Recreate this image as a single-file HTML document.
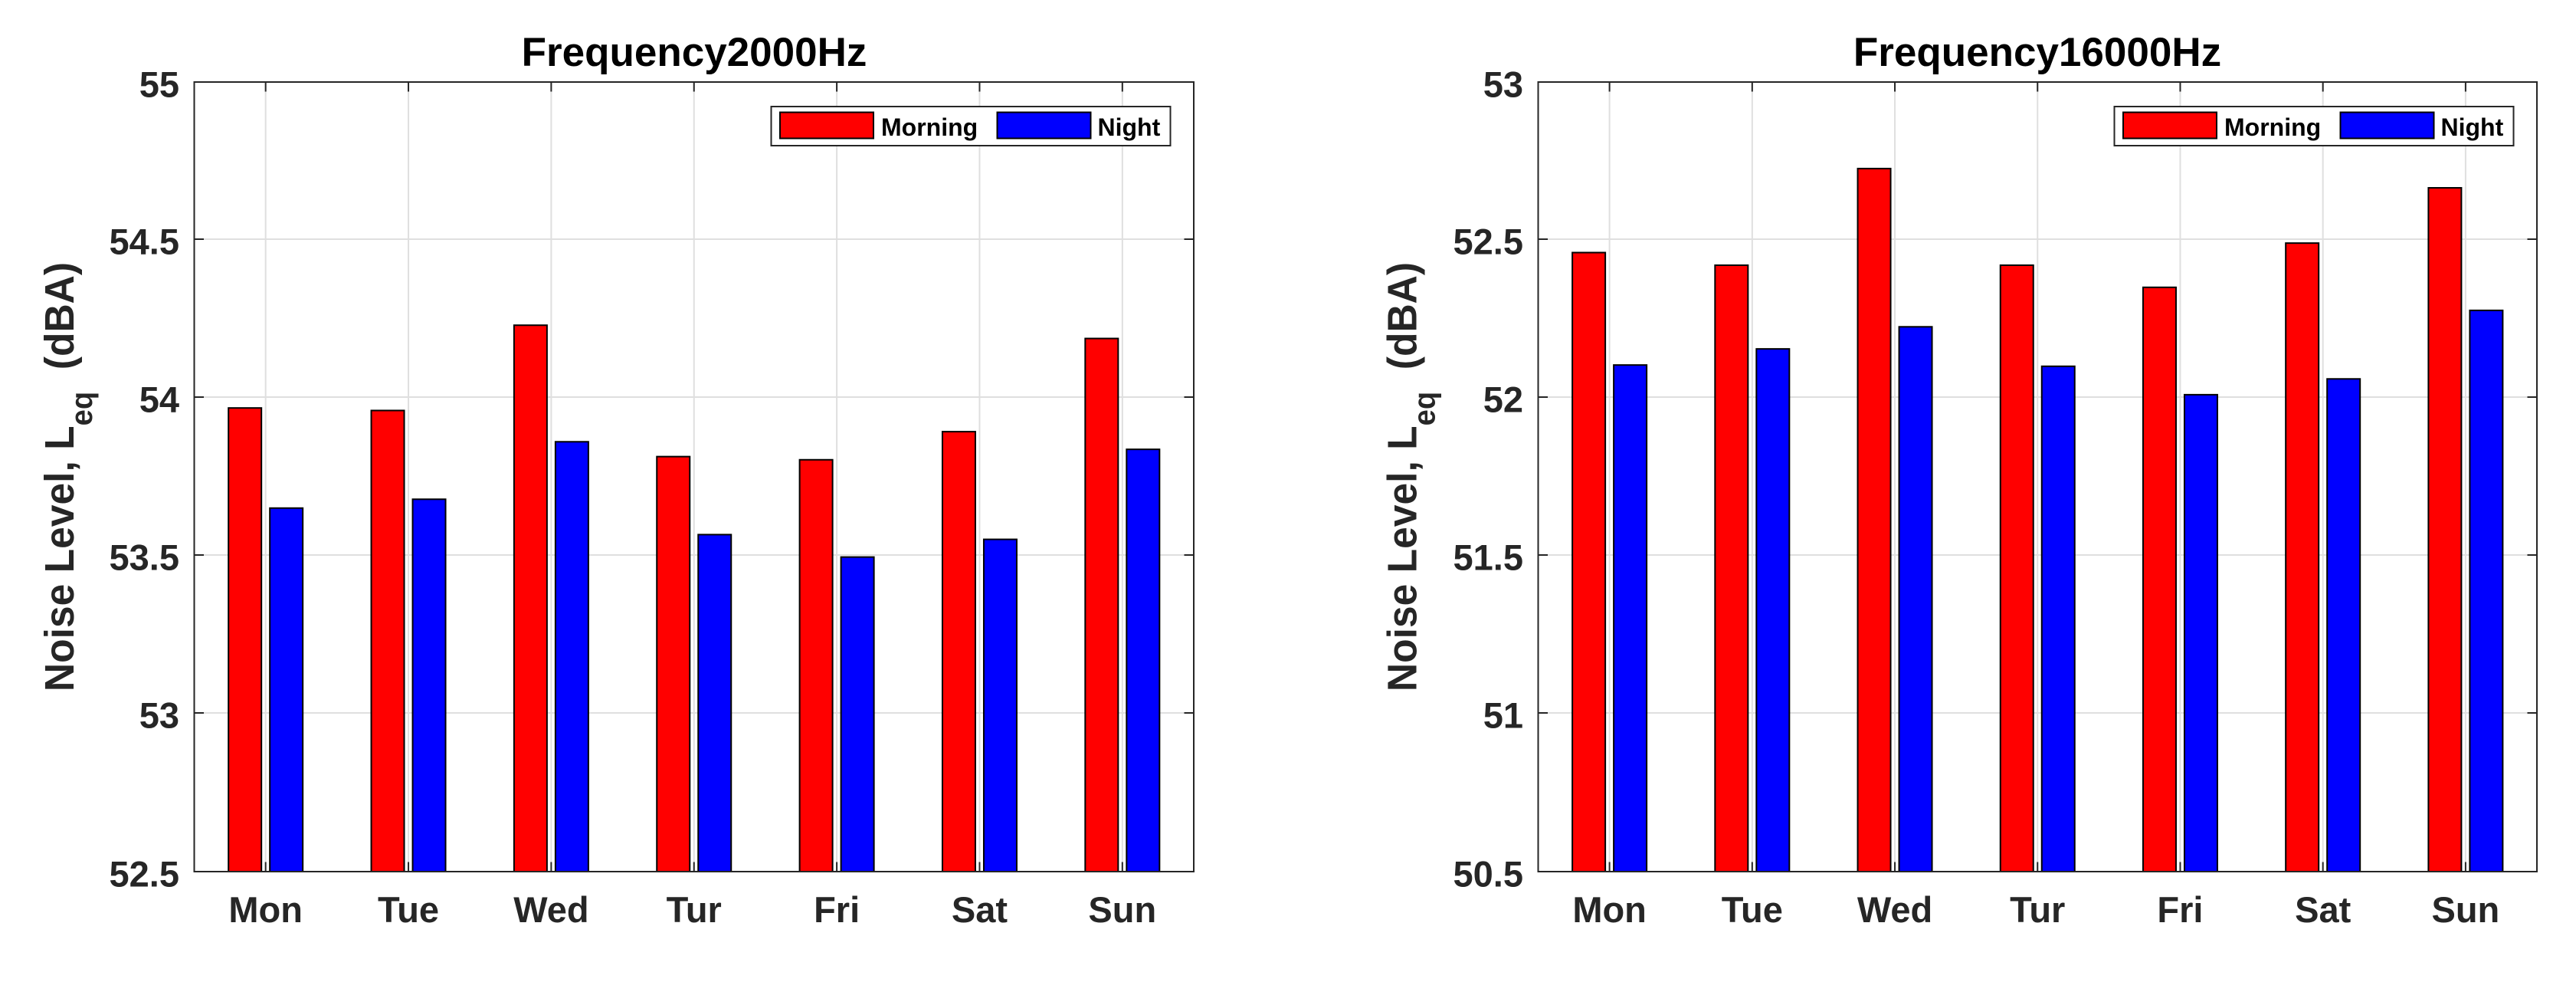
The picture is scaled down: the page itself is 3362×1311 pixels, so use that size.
<!DOCTYPE html>
<html lang="en">
<head>
<meta charset="utf-8">
<title>Noise Level by Day: 2000Hz and 16000Hz</title>
<style>
  html, body { margin: 0; padding: 0; background: #fff; }
  body { width: 3362px; height: 1311px; overflow: hidden; }
  svg { display: block; }
  text { font-family: "Liberation Sans", Arial, sans-serif; font-weight: bold; }
  .chart-title { font-size: 53px; fill: #000; text-anchor: middle; }
  .y-title { font-size: 54px; fill: #262626; text-anchor: middle; }
  .y-title .sub { font-size: 40px; }
  .tick-label { font-size: 47px; fill: #262626; }
  .legend-text { font-size: 32px; fill: #000; }
</style>
</head>
<body>
<svg id="figure" xmlns="http://www.w3.org/2000/svg" width="3362" height="1311" viewBox="0 0 3362 1311">
  <rect x="0" y="0" width="3362" height="1311" fill="#ffffff"/>

  <g id="panel-2000"></g>
  <text class="chart-title" x="906" y="86">Frequency2000Hz</text>
  <text class="y-title" transform="translate(96,622) rotate(-90) scale(0.955,1)">Noise Level, L<tspan class="sub" dy="24">eq</tspan><tspan dy="-24">&#160;&#160;(dBA)</tspan></text>

  <g id="panel-16000"></g>
  <text class="chart-title" x="2659" y="86">Frequency16000Hz</text>
  <text class="y-title" transform="translate(1848.5,622) rotate(-90) scale(0.955,1)">Noise Level, L<tspan class="sub" dy="24">eq</tspan><tspan dy="-24">&#160;&#160;(dBA)</tspan></text>
</svg>

<script>
// ---- chart data ----
const categories = ['Mon', 'Tue', 'Wed', 'Tur', 'Fri', 'Sat', 'Sun'];
const seriesNames = ['Morning', 'Night'];

const morning2000 = [53.968, 53.960, 54.230, 53.814, 53.804, 53.893, 54.188];
const night2000 = [53.651, 53.679, 53.861, 53.567, 53.496, 53.552, 53.837];
const ticks2000 = [52.5, 53, 53.5, 54, 54.5, 55];
const tickLabels2000 = ['52.5', '53', '53.5', '54', '54.5', '55'];

const morning16000 = [52.460, 52.420, 52.726, 52.420, 52.350, 52.490, 52.665];
const night16000 = [52.104, 52.155, 52.225, 52.100, 52.010, 52.060, 52.277];
const ticks16000 = [50.5, 51, 51.5, 52, 52.5, 53];
const tickLabels16000 = ['50.5', '51', '51.5', '52', '52.5', '53'];

// ---- drawing ----
const SVG_NS = 'http://www.w3.org/2000/svg';
const AXIS_COLOR = '#262626';
const GRID_COLOR = '#dfdfdf';
const SERIES_COLORS = ['#ff0000', '#0000ff'];

function make(tag, parent, attrs) {
  const el = document.createElementNS(SVG_NS, tag);
  for (const k in attrs) el.setAttribute(k, attrs[k]);
  parent.appendChild(el);
  return el;
}

function drawPanel(root, slug, box, morning, night, ticks, tickLabels) {
  const yMin = ticks[0];
  const yMax = ticks[ticks.length - 1];
  const xScale = function (i) {
    return box.left + (i + 0.5) * (box.right - box.left) / categories.length;
  };
  const yScale = function (v) {
    return box.bottom - (v - yMin) / (yMax - yMin) * (box.bottom - box.top);
  };
  // interior ticks sit about a pixel above the linear position in the reference
  const tickY = function (t, i) {
    const interior = i > 0 && i < ticks.length - 1;
    return yScale(t) - (interior ? 1 : 0);
  };
  const BAR_W = 43;
  const BAR_OFFSET = 27;
  const TICK_LEN = 12.5;

  // grid
  ticks.forEach(function (t, i) {
    if (i === 0 || i === ticks.length - 1) return;
    const y = tickY(t, i);
    const line = make('line', root, { x1: box.left, x2: box.right, y1: y, y2: y, stroke: GRID_COLOR, 'stroke-width': 2 });
    
    
  });
  categories.forEach(function (c, i) {
    const line = make('line', root, { x1: xScale(i), x2: xScale(i), y1: box.top, y2: box.bottom, stroke: GRID_COLOR, 'stroke-width': 2 });
    
    
  });

  // bars
  [morning, night].forEach(function (values, s) {
    values.forEach(function (v, i) {
      const cx = xScale(i) + (s === 0 ? -BAR_OFFSET : BAR_OFFSET);
      const top = yScale(v);
      const bar = make('rect', root, { x: cx - BAR_W / 2, y: top, width: BAR_W, height: yScale(yMin) - top, fill: SERIES_COLORS[s], stroke: '#000000', 'stroke-width': 2 });
      
      
    });
  });

  // ticks on all four sides
  categories.forEach(function (c, i) {
    const x = xScale(i);
    const bottomTick = make('line', root, { x1: x, x2: x, y1: box.bottom, y2: box.bottom - TICK_LEN, stroke: AXIS_COLOR, 'stroke-width': 2 });
    
    
    const topTick = make('line', root, { x1: x, x2: x, y1: box.top, y2: box.top + TICK_LEN, stroke: AXIS_COLOR, 'stroke-width': 2 });
    
    
    const label = make('text', root, { class: 'tick-label', x: x, y: box.bottom + 66, 'text-anchor': 'middle' });
    label.textContent = c;
    
    
  });
  ticks.forEach(function (t, i) {
    const y = tickY(t, i);
    const leftTick = make('line', root, { x1: box.left, x2: box.left + TICK_LEN, y1: y, y2: y, stroke: AXIS_COLOR, 'stroke-width': 2 });
    
    
    const rightTick = make('line', root, { x1: box.right, x2: box.right - TICK_LEN, y1: y, y2: y, stroke: AXIS_COLOR, 'stroke-width': 2 });
    
    
    const label = make('text', root, { class: 'tick-label', x: box.left - 19.5, y: y + 19.5, 'text-anchor': 'end' });
    label.textContent = tickLabels[i];
    
    
  });

  // axes box
  const frame = make('rect', root, { x: box.left, y: box.top, width: box.right - box.left, height: box.bottom - box.top, fill: 'none', stroke: AXIS_COLOR, 'stroke-width': 2 });
  
  

  // legend
  const lx = box.right - 551.5;
  const legend = make('g', root, {});
  
  
  const legendBox = make('rect', legend, { x: lx, y: 139, width: 521, height: 51, fill: '#ffffff', stroke: AXIS_COLOR, 'stroke-width': 2 });
  
  
  const swatchOffsets = [11.5, 295];
  const labelOffsets = [143.5, 426];
  seriesNames.forEach(function (name, s) {
    const swatch = make('rect', legend, { x: lx + swatchOffsets[s], y: 146.5, width: 122, height: 34, fill: SERIES_COLORS[s], stroke: '#000000', 'stroke-width': 2 });
    
    
    const text = make('text', legend, { class: 'legend-text', x: lx + labelOffsets[s], y: 177 });
    text.textContent = name;
    
    
  });
}

drawPanel(document.getElementById('panel-2000'), '2000hz', { left: 253.5, right: 1558, top: 107, bottom: 1137 }, morning2000, night2000, ticks2000, tickLabels2000);
drawPanel(document.getElementById('panel-16000'), '16000hz', { left: 2007.5, right: 3311, top: 107, bottom: 1137 }, morning16000, night16000, ticks16000, tickLabels16000);
</script>
</body>
</html>
